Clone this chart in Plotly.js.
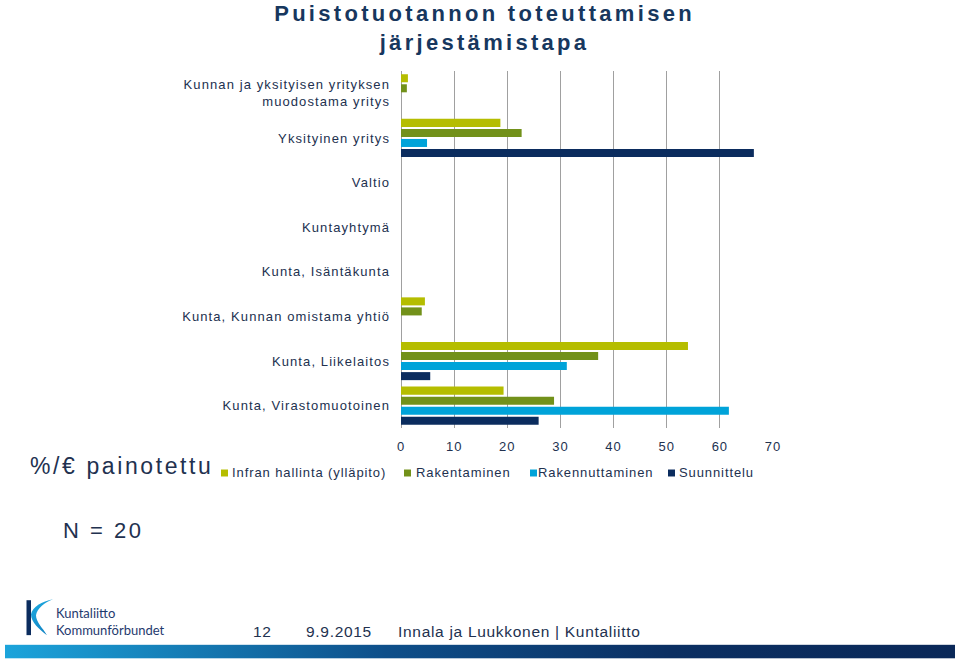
<!DOCTYPE html>
<html>
<head>
<meta charset="utf-8">
<script src="https://cdn.plot.ly/plotly-3.0.1.min.js"></script>
<style>
  html, body { margin: 0; padding: 0; background: #ffffff; }
  #chart { width: 960px; height: 661px; }
  #chart .ytick text { letter-spacing: 1.1px; }
  #chart .xtick text { letter-spacing: 1px; }
  #chart .annotation[data-index="0"] text { letter-spacing: 3.3px; }
  #chart .annotation[data-index="1"] text { letter-spacing: 2.6px; }
  #chart .annotation[data-index="2"] text { letter-spacing: 2.5px; }
  #chart .annotation[data-index="4"] text,
  #chart .annotation[data-index="5"] text,
  #chart .annotation[data-index="6"] text { letter-spacing: 0.7px; }
  #chart .annotation[data-index="7"] text,
  #chart .annotation[data-index="8"] text,
  #chart .annotation[data-index="9"] text,
  #chart .annotation[data-index="10"] text { letter-spacing: 0.9px; }
</style>
</head>
<body>
<div id="chart"></div>
<script>
// ---- data ----
const categories = [
  "Kunnan ja yksityisen yrityksen<br>muodostama yritys",
  "Yksityinen yritys",
  "Valtio",
  "Kuntayhtymä",
  "Kunta, Isäntäkunta",
  "Kunta, Kunnan omistama yhtiö",
  "Kunta, Liikelaitos",
  "Kunta, Virastomuotoinen"
];
const seriesNames = ["Infran hallinta (ylläpito)", "Rakentaminen", "Rakennuttaminen", "Suunnittelu"];
const infraValues           = [1.3, 18.7, null, null, null, 4.5, 54.0, 19.3];
const rakentaminenValues    = [1.1, 22.7, null, null, null, 3.9, 37.1, 28.8];
const rakennuttaminenValues = [null, 4.9, null, null, null, null, 31.2, 61.7];
const suunnitteluValues     = [null, 66.4, null, null, null, null, 5.5, 25.9];
const xTickValues = [0, 10, 20, 30, 40, 50, 60, 70];

const titleText = "Puistotuotannon toteuttamisen<br>järjestämistapa";
const unitText = "%/€ painotettu";
const nText = "N = 20";
const footerPage = "12";
const footerDate = "9.9.2015";
const footerAuthor = "Innala ja Luukkonen | Kuntaliitto";
const logoText = "Kuntaliitto<br>Kommunförbundet";

// ---- styles ----
const colors = ["#B5BD00", "#72911A", "#00A3D9", "#0B2C5E"];
const textColor = "#22314F";
const W = 960, H = 661;
const plotL = 401, plotR = 773, plotT = 70.6, plotB = 428.4;
const px = x => (x - plotL) / (plotR - plotL);
const py = y => (plotB - y) / (plotB - plotT);

const valueSets = [infraValues, rakentaminenValues, rakennuttaminenValues, suunnitteluValues];
const traces = valueSets.map((vals, i) => ({
  type: "bar",
  orientation: "h",
  name: seriesNames[i],
  y: categories,
  x: vals,
  marker: { color: colors[i], line: { width: 0 } },
  hoverinfo: "x+name"
}));

const logoSvg = '<svg xmlns="http://www.w3.org/2000/svg" width="40" height="40" viewBox="0 0 40 40">' +
  '<defs><linearGradient id="g" x1="0" y1="0" x2="0.6" y2="1"><stop offset="0" stop-color="#1FAEE3"/><stop offset="1" stop-color="#1284C4"/></linearGradient></defs>' +
  '<rect x="6.5" y="3" width="4.5" height="35" fill="#0B2C5E"/>' +
  '<path d="M33 2 C22 4 12 10 11 17 C11 25 19 32 27 38 C23 31 16 25 16 18 C17 11 25 5 33 2 Z" fill="url(#g)"/>' +
  '</svg>';
const barSvg = '<svg xmlns="http://www.w3.org/2000/svg" width="960" height="15" viewBox="0 0 960 15" preserveAspectRatio="none">' +
  '<defs><linearGradient id="b" x1="0" y1="0" x2="1" y2="0"><stop offset="0" stop-color="#1CA4DB"/><stop offset="0.4" stop-color="#0E4F8A"/><stop offset="0.7" stop-color="#0B2F62"/><stop offset="1" stop-color="#0A2858"/></linearGradient></defs>' +
  '<rect x="0" y="0" width="960" height="15" fill="url(#b)"/></svg>';
const toData = s => "data:image/svg+xml;base64," + btoa(unescape(encodeURIComponent(s)));

const baseFont = "Liberation Sans, Arial, sans-serif";
function leftText(text, x, y, size, color, width, family) {
  return { text: text, xref: "paper", yref: "paper", x: px(x), y: py(y), xanchor: "left", yanchor: "middle",
    align: "left", width: width, showarrow: false, borderpad: 0,
    font: { family: family || baseFont, size: size, color: color } };
}

// legend drawn as marker squares + labels
const legendMarkX = [221, 404, 530, 668];
const legendTextX = [231, 415, 537, 678];

const annotations = [
  { text: titleText, xref: "paper", yref: "paper", x: px(484), y: py(28), xanchor: "center", yanchor: "middle",
    showarrow: false, font: { family: baseFont, size: 22, color: "#17375E", weight: "bold" } },
  leftText(unitText, 29, 466, 23, textColor, 220),
  leftText(nText, 62, 531, 22, textColor, 120),
  leftText(logoText, 55, 622.5, 13, "#1F3A6E", 140, "Lato, sans-serif"),
  leftText(footerPage, 252, 632, 15.5, textColor, 30),
  leftText(footerDate, 305, 632, 15.5, textColor, 80),
  leftText(footerAuthor, 397, 632, 15.5, textColor, 270)
];
seriesNames.forEach((n, i) => {
  annotations.push(leftText(n, legendTextX[i], 473.5, 13, textColor, 170));
});

const shapes = seriesNames.map((n, i) => ({
  type: "rect", xref: "paper", yref: "paper",
  x0: px(legendMarkX[i]), x1: px(legendMarkX[i] + 7),
  y0: py(470), y1: py(477),
  fillcolor: colors[i], line: { width: 0 }
}));

const layout = {
  width: W, height: H,
  autosize: false,
  paper_bgcolor: "#ffffff",
  plot_bgcolor: "#ffffff",
  margin: { l: plotL, r: W - plotR, t: plotT, b: H - plotB, pad: 0 },
  barmode: "group",
  bargap: 0.1,
  bargroupgap: 0.2,
  font: { family: baseFont, size: 13, color: textColor },
  xaxis: {
    range: [0, 70],
    tickvals: xTickValues,
    ticktext: xTickValues.map(String),
    showgrid: true,
    gridcolor: "#A0A0A0",
    gridwidth: 1,
    zeroline: true,
    zerolinecolor: "#A0A0A0",
    zerolinewidth: 1,
    showline: false,
    ticks: "",
    ticklabelstandoff: 9,
    tickfont: { size: 13, color: textColor },
    fixedrange: true
  },
  yaxis: {
    type: "category",
    autorange: "reversed",
    showgrid: false,
    zeroline: false,
    showline: false,
    ticks: "",
    ticklabelstandoff: 10,
    tickfont: { size: 13, color: textColor },
    fixedrange: true
  },
  showlegend: false,
  annotations: annotations,
  shapes: shapes,
  images: [
    { source: toData(logoSvg), xref: "paper", yref: "paper", x: px(20), y: py(598), sizex: px(60) - px(20), sizey: py(598) - py(638),
      xanchor: "left", yanchor: "top", sizing: "stretch", layer: "above" },
    { source: toData(barSvg), xref: "paper", yref: "paper", x: px(5), y: py(645.5), sizex: px(955) - px(5), sizey: py(645.5) - py(659.5),
      xanchor: "left", yanchor: "top", sizing: "stretch", layer: "above" }
  ]
};

Plotly.newPlot("chart", traces, layout, { displayModeBar: false, responsive: false });
</script>
</body>
</html>
